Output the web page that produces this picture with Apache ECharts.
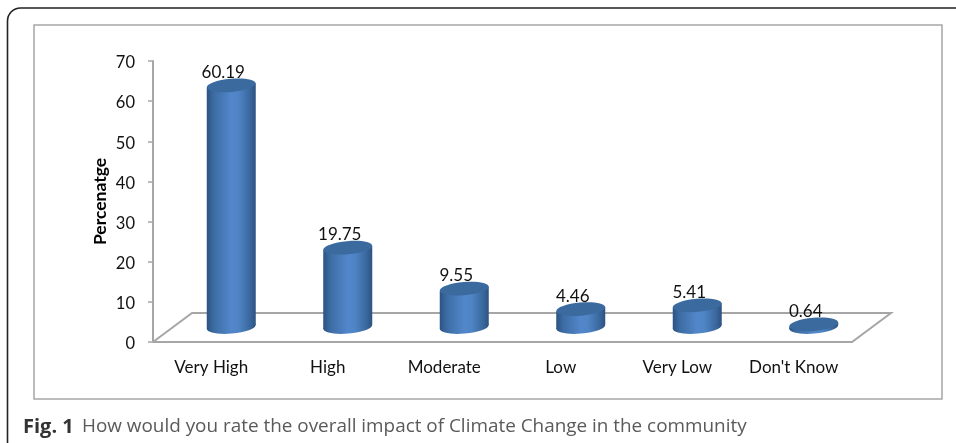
<!DOCTYPE html>
<html><head><meta charset="utf-8">
<style>html,body{margin:0;padding:0;background:#fff}#c{width:956px;height:443px}</style>
<script src="https://cdn.jsdelivr.net/npm/echarts@6/dist/echarts.min.js"></script>
</head><body><div id="c"></div>
<script>
const categories = ['Very High','High','Moderate','Low','Very Low',"Don't Know"];
const values = [60.19,19.75,9.55,4.46,5.41,0.64];
const labels = ['60.19','19.75','9.55','4.46','5.41','0.64'];
const yTicks = {min:0,max:70,interval:10};

const DEPTH_X = 39, DEPTH_Y = 29;      // floor depth of the 3D box
const OFF_X = 20, OFF_Y = 15;          // bars stand mid-floor
const RX = 24.5, RY = 6.6, TILT = 0.085;

const bodyFill = {type:'linear',x:0,y:0,x2:1,y2:0,colorStops:[
  {offset:0,color:'#2c5282'},{offset:0.14,color:'#3c6ca3'},{offset:0.5,color:'#5287cb'},
  {offset:0.64,color:'#4f85c6'},{offset:0.88,color:'#3a689e'},{offset:1,color:'#2d5280'}]};

const chart = echarts.init(document.getElementById('c'),null,{renderer:'canvas'});
chart.setOption({
  animation:false,
  backgroundColor:'#fff',
  graphic:[
    {type:'rect',shape:{x:7.5,y:8,width:1000,height:447,r:13},style:{fill:'none',stroke:'#222',lineWidth:1.6},z:0},
    {type:'rect',shape:{x:34,y:25,width:908,height:374},style:{fill:'#fff',stroke:'#a6a6a6',lineWidth:1.5},z:0},
    {type:'text',x:23,y:427,style:{text:'Fig. 1',font:'bold 20px "Open Sans"',fill:'#333',verticalAlign:'middle'},z:5},
    {type:'text',x:82,y:427,style:{text:'How would you rate the overall impact of Climate Change in the community',font:'18.9px "Open Sans"',fill:'#5a5a5a',verticalAlign:'middle'},z:5}
  ],
  grid:{left:153,top:61,width:699,height:281},
  xAxis:{type:'category',data:categories,
    axisLine:{show:false},axisTick:{show:false},
    axisLabel:{color:'#111',fontFamily:'Lato',fontSize:17,margin:17}},
  yAxis:{type:'value',...yTicks,
    name:'Percenatge',nameLocation:'middle',nameGap:44,nameMoveOverlap:false,
    nameTextStyle:{fontFamily:'Lato',fontWeight:'bold',fontSize:17.5,color:'#000'},
    axisLine:{show:true,lineStyle:{color:'#a6a6a6',width:2}},
    axisTick:{show:true,length:5,lineStyle:{color:'#a6a6a6',width:1.5}},
    splitLine:{show:false},
    axisLabel:{margin:18,formatter:'{a|{value}}',
      rich:{a:{color:'#111',fontFamily:'Lato',fontSize:16.5,padding:[4,0,0,0]}}}},
  series:[
    {type:'custom',coordinateSystem:'cartesian2d',silent:true,clip:false,z:2,data:[[0,0]],
     renderItem(params,api){
       const cs=params.coordSys, a=[cs.x,api.coord([0,0])[1]], w=cs.width;
       const p=[a[0],a[1]], q=[a[0]+w,a[1]], r=[a[0]+w+DEPTH_X,a[1]-DEPTH_Y], s=[a[0]+DEPTH_X,a[1]-DEPTH_Y];
       return {type:'polyline',shape:{points:[p,q,r,s,p]},style:{fill:'none',stroke:'#a6a6a6',lineWidth:2}};
     }},
    {type:'custom',coordinateSystem:'cartesian2d',silent:true,clip:false,z:3,
     data:values.map((v,i)=>[i,v]),
     renderItem(params,api){
       const i=api.value(0), v=api.value(1);
       const base=api.coord([i,0]), top=api.coord([i,v]);
       const cx=base[0]+OFF_X, by=base[1]-OFF_Y, ty=top[1]-OFF_Y;
       const dy=RX*Math.sin(TILT);
       const ell=(cy,fill)=>({type:'ellipse',shape:{cx,cy,rx:RX,ry:RY},rotation:TILT,originX:cx,originY:cy,style:{fill}});
       return {type:'group',children:[
         ell(by,bodyFill),
         {type:'polygon',shape:{points:[[cx-RX,by+dy],[cx+RX,by-dy],[cx+RX,ty-dy],[cx-RX,ty+dy]]},style:{fill:bodyFill}},
         ell(ty,'#3b6a9f'),
         {type:'text',x:cx-8,y:ty-13,style:{text:labels[params.dataIndex],font:'17px Lato',fill:'#111',align:'center',verticalAlign:'middle'}}
       ]};
     }}
  ]
});
</script></body></html>
